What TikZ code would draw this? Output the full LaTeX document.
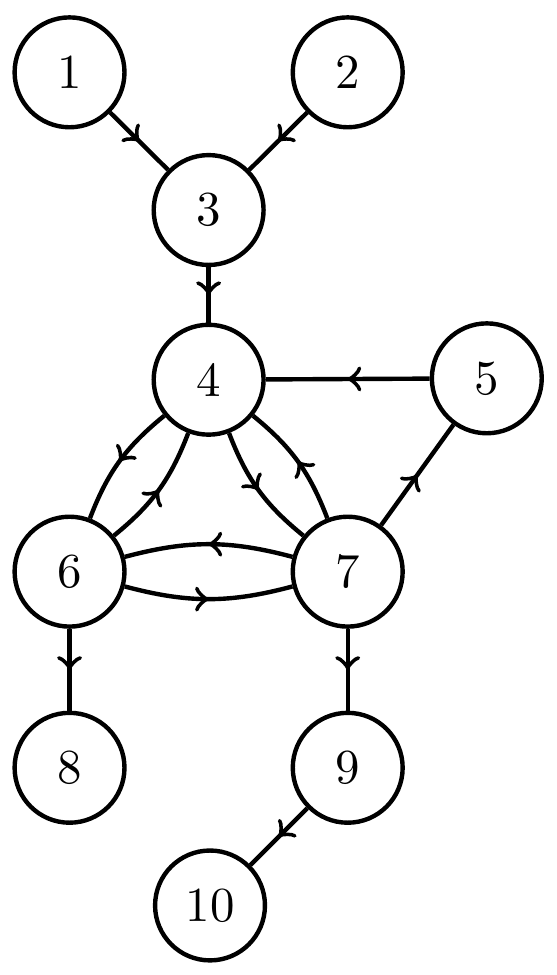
\documentclass[tikz,border=0pt]{standalone}
\usetikzlibrary{decorations.markings}
\begin{document}
\begin{tikzpicture}[
    nodo/.style={circle,draw,line width=0.9pt,minimum size=0.79cm,inner sep=0pt},
    arco/.style={line width=0.9pt,postaction={decorate},
      decoration={markings,mark=at position 0.5 with {\arrow{>}}}}
  ]
  \useasboundingbox (0,0) rectangle (4,-7.01);
  % Nodi
  \node[nodo] (n1) at (0.5,-0.52) {1};
  \node[nodo] (n2) at (2.5,-0.52) {2};
  \node[nodo] (n3) at (1.5,-1.51) {3};
  \node[nodo] (n4) at (1.5,-2.73) {4};
  \node[nodo] (n5) at (3.5,-2.72) {5};
  \node[nodo] (n6) at (0.5,-4.11) {6};
  \node[nodo] (n7) at (2.5,-4.11) {7};
  \node[nodo] (n8) at (0.5,-5.52) {8};
  \node[nodo] (n9) at (2.5,-5.52) {9};
  \node[nodo] (n10) at (1.51,-6.51) {10};
  % Archi
  \draw[arco] (n1) -- (n3);
  \draw[arco] (n2) -- (n3);
  \draw[arco] (n3) -- (n4);
  \draw[arco] (n5) -- (n4);
  \draw[arco] (n4) to[bend right=15] (n6);
  \draw[arco] (n6) to[bend right=15] (n4);
  \draw[arco] (n4) to[bend right=15] (n7);
  \draw[arco] (n7) to[bend right=15] (n4);
  \draw[arco] (n6) to[bend right=15] (n7);
  \draw[arco] (n7) to[bend right=15] (n6);
  \draw[arco] (n7) -- (n5);
  \draw[arco] (n6) -- (n8);
  \draw[arco] (n7) -- (n9);
  \draw[arco] (n9) -- (n10);
\end{tikzpicture}
\end{document}
